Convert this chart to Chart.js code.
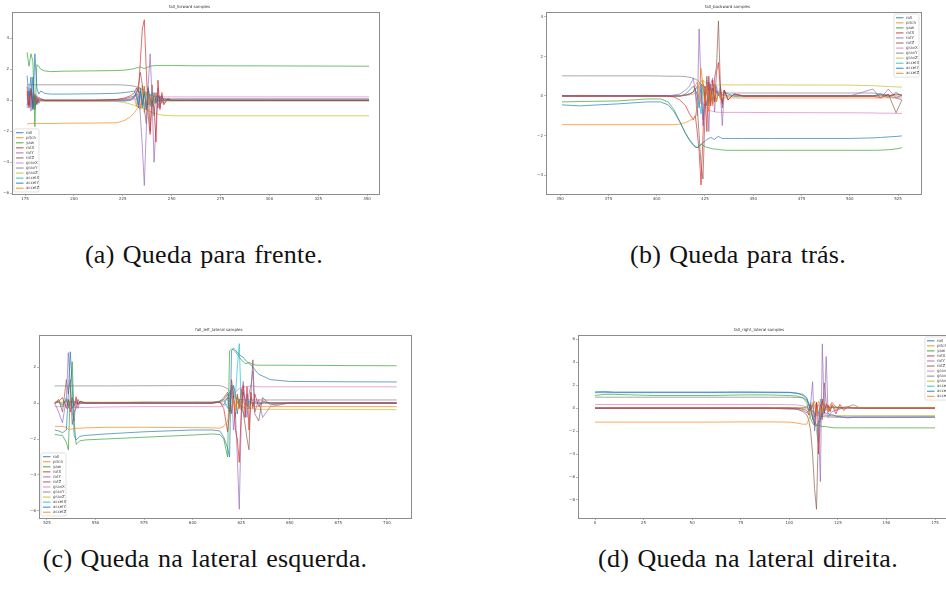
<!DOCTYPE html>
<html>
<head>
<meta charset="utf-8">
<script src="https://cdn.jsdelivr.net/npm/chart.js@4.4.0/dist/chart.umd.min.js"></script>
<style>
  body { margin: 0; background: #fff; width: 946px; height: 593px; overflow: hidden; position: relative; }
  canvas { position: absolute; }
  .cap { position: absolute; width: 400px; text-align: center; font-family: 'Liberation Serif', serif; font-size: 26px; line-height: 24px; letter-spacing: 0.25px; word-spacing: 1.5px; color: #111; }
</style>
</head>
<body>
<canvas id="chartA" width="384" height="205" style="left:0px;top:0px"></canvas>
<canvas id="chartB" width="392" height="205" style="left:534px;top:0px"></canvas>
<canvas id="chartC" width="389" height="206" style="left:27px;top:323px"></canvas>
<canvas id="chartD" width="391" height="206" style="left:566px;top:323px"></canvas>
<div class="cap" style="left:4px;top:243px">(a) Queda para frente.</div>
<div class="cap" style="left:538px;top:243px">(b) Queda para trás.</div>
<div class="cap" style="left:5px;top:547px">(c) Queda na lateral esquerda.</div>
<div class="cap" style="left:548px;top:547px">(d) Queda na lateral direita.</div>
<script>
// sensor channels, same order / colour cycle as the matplotlib plots
const seriesNames = ['roll', 'pitch', 'yaw', 'rotX', 'rotY', 'rotZ', 'gravX', 'gravY', 'gravZ', 'accelX', 'accelY', 'accelZ'];
const seriesColors = ['#1f77b4', '#ff7f0e', '#2ca02c', '#d62728', '#9467bd', '#8c564b', '#e377c2', '#7f7f7f', '#bcbd22', '#17becf', '#1f77b4', '#ff7f0e'];

// ---- fall_forward samples ----
const fwdX = [176, 177, 178, 179, 180, 181, 182, 183, 185, 188, 195, 210, 222, 226, 229, 231, 232, 233, 234, 235, 236, 237, 238, 239, 240, 241, 242, 243, 244, 245, 246, 248, 250, 260, 300, 351];
const fwdRoll = [1.6, 0.3, 1.5, -0.5, 3.0, 0.8, 0.4, 0.6, 0.45, 0.4, 0.4, 0.42, 0.45, 0.5, 0.55, 0.6, 0.2, -0.5, 0.8, -0.3, 0.5, -0.6, 0.7, 0.2, -0.4, 0.5, -0.2, 0.3, -0.1, 0.1, 0.0, 0.05, 0.0, 0.0, 0.0, 0.0];
const fwdPitch = [-1.55, -1.5, -1.5, -1.5, -1.5, -1.5, -1.5, -1.5, -1.5, -1.5, -1.48, -1.47, -1.45, -1.3, -1.05, -0.8, -0.6, -0.45, -0.6, 0.2, 0.9, -0.4, 0.5, -0.3, 0.3, -0.2, 0.4, 0.1, -0.1, 0.05, -0.05, -0.05, -0.05, -0.05, -0.05, -0.05];
const fwdYaw = [3.1, 2.2, 3.0, 2.5, -1.7, 2.3, 2.2, 2.0, 1.9, 1.85, 1.88, 1.9, 1.92, 1.95, 2.0, 2.05, 2.1, 2.1, 2.15, 2.1, 2.05, 2.1, 2.15, 2.2, 2.22, 2.23, 2.25, 2.25, 2.25, 2.25, 2.25, 2.25, 2.25, 2.23, 2.22, 2.2];
const fwdRotX = [0.9, -0.5, 0.7, -0.3, 0.4, -0.2, 0.2, 0.1, 0, 0, 0, 0, 0.05, 0.15, 0.3, 0.5, 0.8, 0.5, 2.6, 4.6, 5.2, 2.0, -1.0, -2.2, 0.0, -0.5, -2.7, 1.3, -0.6, 0.5, -0.3, 0.1, 0, 0, 0, 0];
const fwdRotY = [-0.5, 0.6, -0.7, 0.3, -0.4, 0.2, -0.1, 0.1, 0, 0, 0, 0, 0, 0, 0.05, 0.2, 0.5, 0.3, -1.0, -3.0, -5.5, -2.0, 1.0, 3.0, 0.0, -4.0, -1.5, 0.8, -0.5, 0.3, -0.2, 0.1, 0, 0, 0, 0];
const fwdRotZ = [0.6, -0.3, 0.8, -0.6, 0.2, -0.3, 0.1, 0, 0, 0, 0, 0, 0.05, 0.1, 0.2, 0.3, 0.5, 1.0, 1.8, 1.0, -0.5, -1.5, 0.8, -2.0, 1.0, -1.0, 0.5, -0.5, 0.3, -0.2, 0.1, 0, 0, 0, 0, 0];
const fwdGravX = [0, 0.3, -0.2, 0.5, -0.3, 0.2, 0, 0, 0, 0, 0, 0, 0, 0, 0.02, 0.05, 0.1, 0.15, 0.2, 0.1, -0.2, -0.4, 0.2, -0.1, 0.3, 0.2, 0.25, 0.22, 0.22, 0.22, 0.22, 0.22, 0.22, 0.22, 0.22, 0.22];
const fwdGravY = [1.0, 1.0, 1.0, 1.0, 1.0, 1.0, 1.0, 1.0, 1.0, 1.0, 1.0, 1.0, 1.0, 0.98, 0.95, 0.9, 0.87, 0.83, 0.78, 0.7, 0.6, 0.5, 0.42, 0.35, 0.3, 0.25, 0.2, 0.18, 0.15, 0.13, 0.12, 0.1, 0.1, 0.1, 0.1, 0.1];
const fwdGravZ = [-0.05, -0.05, -0.05, -0.05, -0.05, -0.05, -0.05, -0.05, -0.05, -0.05, -0.05, -0.05, -0.08, -0.15, -0.25, -0.33, -0.38, -0.43, -0.48, -0.53, -0.58, -0.63, -0.68, -0.73, -0.78, -0.83, -0.87, -0.9, -0.93, -0.95, -0.97, -0.98, -1.0, -1.0, -1.0, -1.0];
const fwdAccelX = [0.2, -0.4, 0.5, -0.6, 0.3, -0.2, 0.1, 0, 0, 0, 0, 0, 0, 0.05, 0.1, 0.3, 0.5, 0.8, 0.3, -0.5, 0.7, -0.3, 0.9, -0.4, 0.5, -0.2, 0.3, -0.1, 0.1, 0, 0, 0, 0, 0, 0, 0];
const fwdAccelY = [-0.3, 0.5, -0.4, 1.5, -0.6, 0.3, -0.2, 0, -0.05, -0.05, -0.05, -0.05, -0.05, -0.05, 0, 0.2, 0.4, -0.3, 0.6, -0.5, 0.9, -0.6, 0.4, -0.3, 0.2, -0.1, 0.1, 0, 0, 0, 0, 0, 0, 0, 0, 0];
const fwdAccelZ = [0.4, -0.3, 0.6, -0.2, 0.2, -0.1, 0.05, 0, 0, 0, 0, 0, 0, 0, 0.05, 0.2, -0.4, 0.6, -0.5, 1.0, -0.8, 0.5, -0.3, 0.4, -0.2, 0.1, 0, 0, 0, 0, 0, 0, 0, 0, 0, 0];
const fwdXTicks = [175, 200, 225, 250, 275, 300, 325, 350];
const fwdYTicks = [-6, -4, -2, 0, 2, 4];

// ---- fall_backward samples ----
const bwdX = [351, 360, 380, 395, 402, 406, 409, 412, 415, 417, 419, 420, 421, 422, 423, 424, 425, 426, 427, 428, 429, 430, 431, 432, 433, 434, 435, 437, 440, 445, 460, 500, 512, 516, 520, 524, 527];
const bwdRoll = [-0.45, -0.5, -0.4, -0.3, -0.3, -0.45, -0.8, -1.3, -1.9, -2.2, -2.45, -2.55, -2.6, -2.55, -2.45, -2.35, -2.3, -2.2, -2.15, -2.1, -2.15, -2.2, -2.1, -2.05, -2.1, -2.15, -2.15, -2.15, -2.15, -2.15, -2.15, -2.15, -2.12, -2.1, -2.07, -2.05, -2.02];
const bwdPitch = [-1.45, -1.45, -1.45, -1.45, -1.45, -1.45, -1.45, -1.42, -1.35, -1.25, -1.15, -1.0, -0.6, 0.2, 1.4, 0.5, -0.4, 0.6, -0.8, 0.3, -0.5, 0.4, -0.3, 0.2, -0.2, 0.1, -0.1, -0.1, -0.1, -0.1, -0.1, -0.1, -0.1, -0.1, -0.08, -0.1, -0.1];
const bwdYaw = [-0.3, -0.28, -0.25, -0.15, -0.15, -0.3, -0.7, -1.3, -1.9, -2.25, -2.5, -2.6, -2.62, -2.55, -2.45, -2.5, -2.55, -2.6, -2.62, -2.65, -2.67, -2.68, -2.7, -2.7, -2.72, -2.73, -2.74, -2.75, -2.75, -2.75, -2.75, -2.75, -2.75, -2.74, -2.72, -2.68, -2.62];
const bwdRotX = [0, 0, 0, 0, 0, 0, -0.05, -0.2, -0.5, -0.9, -1.2, -1.0, -1.8, -2.8, -4.5, -2.0, 0.5, -1.8, 1.0, -0.5, 0.8, -0.3, 1.2, 1.7, 0.3, -0.4, 0.3, -0.2, 0.1, 0, 0, 0, 0, 0, 0, 0.1, 0.05];
const bwdRotY = [0, 0, 0, 0, 0, 0, 0.05, 0.1, 0.3, 0.5, 0.9, 0.2, -1.0, 3.4, 0.5, -1.5, -0.5, 0.8, -1.8, 0.6, 0.9, -0.8, 0.5, 0, 0.2, -1.5, 0.3, -0.2, 0.1, 0, 0, 0, 0.35, -0.1, 0.35, -0.1, -0.2];
const bwdRotZ = [0, 0, 0, 0, 0, 0, 0, 0, 0.05, 0.1, 0.2, 0.4, -0.5, -2.0, -3.5, -4.2, -1.0, 1.0, -0.5, 0.6, -0.4, 0.9, 1.5, 3.8, 0.5, -0.6, 0.3, -0.2, 0.1, 0, 0, 0, 0, -0.1, 0.1, -0.85, -0.2];
const bwdGravX = [0, 0, 0, 0, 0, 0, 0, 0, 0.02, 0.05, 0.1, 0.15, 0.1, 0, -0.2, -0.4, -0.5, -0.6, -0.7, -0.75, -0.78, -0.8, -0.82, -0.82, -0.83, -0.83, -0.83, -0.83, -0.83, -0.83, -0.84, -0.85, -0.86, -0.87, -0.87, -0.88, -0.88];
const bwdGravY = [1.02, 1.02, 1.02, 1.02, 1.01, 1.0, 1.0, 1.0, 0.98, 0.95, 0.9, 0.85, 0.8, 0.7, 0.6, 0.5, 0.45, 0.4, 0.35, 0.3, 0.27, 0.25, 0.22, 0.2, 0.18, 0.17, 0.16, 0.15, 0.15, 0.15, 0.15, 0.15, 0.15, 0.1, 0.05, 0, 0];
const bwdGravZ = [0, 0, 0, 0, 0, 0, 0, 0, 0.05, 0.1, 0.2, 0.3, 0.45, 0.6, 0.75, 0.8, 0.7, 0.6, 0.55, 0.55, 0.55, 0.55, 0.55, 0.56, 0.56, 0.56, 0.56, 0.56, 0.56, 0.56, 0.56, 0.55, 0.52, 0.5, 0.48, 0.46, 0.45];
const bwdAccelX = [0, 0, 0, 0, 0, 0, 0, 0, 0.05, 0.1, 0.2, 0.3, 0.5, -0.3, -0.9, 0.6, -0.5, 0.7, -0.4, 0.3, -0.2, 0.6, -0.3, 0.2, -0.1, 0.1, 0, 0, 0, 0, 0, 0, 0, 0.1, -0.1, 0.2, 0];
const bwdAccelY = [0.02, 0, 0.02, 0, 0.02, 0, 0, 0, 0.1, 0.3, 0.5, 0.3, 0.1, -0.6, 0.6, -1.2, 0.2, -0.5, 0.7, -0.3, 0.4, -0.2, 0.3, 0, 0.5, -0.3, 0.2, 0.1, 0, 0, 0, 0, 0, 0.1, 0, -0.1, 0.05];
const bwdAccelZ = [0, 0.03, 0, 0.03, 0, 0, 0, 0, 0.05, 0.1, 0.2, 0.5, 0.7, 0.3, -0.4, 0.8, -0.2, 0.5, -0.3, 0.4, 0.1, -0.2, 0.2, 0.05, 0.1, 0, 0.05, 0, 0, 0, 0, 0, 0, 0.05, 0, 0.1, 0.05];
const bwdXTicks = [350, 375, 400, 425, 450, 475, 500, 525];
const bwdYTicks = [-4, -2, 0, 2, 4];

// ---- fall_left_lateral samples ----
const leftX = [529, 531, 533, 535, 536, 537, 538, 539, 540, 541, 542, 545, 555, 575, 600, 610, 614, 616, 618, 619, 620, 621, 622, 623, 624, 625, 626, 627, 628, 629, 630, 631, 632, 634, 636, 640, 650, 680, 705];
const leftRoll = [-1.5, -1.55, -1.65, -1.5, 0.5, 2.85, 1.0, -1.8, -2.05, -1.95, -1.85, -1.8, -1.72, -1.6, -1.5, -1.5, -1.55, -1.9, -2.5, -3.0, 2.9, 3.05, 2.95, 2.8, 2.7, 2.6, 2.55, 2.4, 2.3, 2.2, 2.1, 2.0, 1.85, 1.6, 1.5, 1.3, 1.2, 1.18, 1.17];
const leftPitch = [-1.3, -1.3, -1.3, -1.35, -1.45, -1.45, -1.45, -1.42, -1.4, -1.4, -1.4, -1.38, -1.35, -1.35, -1.37, -1.38, -1.4, -1.3, -1.0, -0.6, -0.3, 0.2, -0.4, 0.1, -0.3, 0, -0.2, -0.25, -0.2, -0.15, -0.2, -0.2, -0.2, -0.2, -0.2, -0.2, -0.2, -0.2, -0.2];
const leftYaw = [-1.75, -1.78, -1.8, -2.2, -2.6, 0.5, 2.3, -1.0, -2.3, -2.2, -2.1, -2.05, -2.0, -1.9, -1.78, -1.72, -1.75, -2.0, -3.0, 2.9, 3.0, 2.95, 2.85, 2.7, 2.55, 2.4, 2.3, 2.2, 2.2, 2.25, 2.2, 2.15, 2.12, 2.1, 2.1, 2.1, 2.1, 2.08, 2.07];
const leftRotX = [0, 0.1, 0.3, -0.3, 0.2, -0.5, 0.3, -0.2, 0.35, -0.1, 0.1, 0, 0, 0, 0, 0, 0.05, -0.3, -1.6, -0.5, 1.3, 0.5, -1.5, -2.0, -3.3, -0.5, 1.0, -0.8, 0.9, -1.5, 0.6, -0.3, 0.5, -0.2, 0.1, 0, 0, 0, 0];
const leftRotY = [0, -0.5, -1.1, 0.3, 2.8, 1.0, -0.5, -1.0, 0.2, -0.3, 0.1, 0, 0, 0.05, 0.05, 0.05, 0.1, 0.2, 0.5, -0.5, 1.0, -1.5, -0.5, -3.0, -5.9, -1.0, 1.2, 0.2, -0.8, 0.5, 1.0, 1.8, -0.5, 0.2, -0.8, -0.2, 0, 0, 0];
const leftRotZ = [0, 0.2, -0.5, 1.3, 0.5, 1.3, -1.2, -0.5, -0.3, 0.2, 0, 0, 0, 0, 0, 0, 0.1, 0.3, 0.6, 0.2, -0.6, 0.4, -0.8, 0.5, -0.3, 0.8, -0.5, -1.2, -2.0, -2.6, 0.5, 2.4, -0.6, -1.0, 0.3, -0.1, 0, 0, 0];
const leftGravX = [-0.2, -0.2, -0.2, -0.1, 0.1, -0.1, -0.25, -0.25, -0.25, -0.25, -0.25, -0.25, -0.22, -0.2, -0.2, -0.2, -0.2, -0.15, -0.05, 0.1, 0.3, 0.5, 0.6, 0.7, 0.8, 0.85, 0.88, 0.9, 0.92, 0.93, 0.95, 0.95, 0.93, 0.9, 0.9, 0.9, 0.9, 0.9, 0.9];
const leftGravY = [0.95, 0.95, 0.95, 0.95, 0.95, 0.95, 0.95, 0.95, 0.95, 0.95, 0.95, 0.95, 0.95, 0.96, 0.97, 0.97, 0.97, 0.9, 0.8, 0.65, 0.5, 0.4, 0.3, 0.25, 0.2, 0.2, 0.18, 0.17, 0.17, 0.17, 0.17, 0.17, 0.17, 0.17, 0.17, 0.17, 0.17, 0.17, 0.17];
const leftGravZ = [0.05, 0.05, 0.05, 0.05, 0.05, 0.05, 0.05, 0.05, 0.05, 0.05, 0.05, 0.05, 0.05, 0.05, 0.05, 0.05, 0.1, 0.2, 0.4, 0.6, 0.8, 0.6, 0.3, 0, -0.1, -0.2, -0.25, -0.28, -0.3, -0.3, -0.3, -0.32, -0.33, -0.35, -0.35, -0.35, -0.35, -0.36, -0.37];
const leftAccelX = [0, 0.1, -0.2, 0.3, -0.3, 0.2, 0.1, -0.1, 0, 0, 0, 0, 0, 0, 0, 0, 0.05, 0.2, -0.3, 0.6, -0.5, 1.0, 0.3, 2.0, 3.3, -0.2, -0.5, -0.8, 0.5, -0.3, 0.3, -0.2, 0.1, 0, 0, 0, 0, 0, 0];
const leftAccelY = [0, 0.05, -0.1, 0.2, -0.2, 0.1, -0.3, 0.1, 0, 0, 0, 0, 0, 0, 0, 0, 0.05, -0.1, 0.3, -0.5, 0.5, 1.0, 0.5, -0.6, 0.2, -0.4, 0.6, 0.2, -0.2, 0.1, 0, 0, 0, 0, 0, 0, 0, 0, 0];
const leftAccelZ = [0, 0.05, 0, 0.1, -0.1, 0.1, 0, 0, 0, 0, 0, 0, 0, 0, 0, 0, 0.05, 0.1, 0.3, 0.5, 0.8, 0.3, -0.2, 0.4, -0.3, 0.2, 0.1, -0.1, 0.05, 0, 0, 0, 0, 0, 0, 0, 0, 0, 0];
const leftXTicks = [525, 550, 575, 600, 625, 650, 675, 700];
const leftYTicks = [-6, -4, -2, 0, 2];

// ---- fall_right_lateral samples ----
const rightX = [0, 5, 10, 30, 60, 75, 90, 100, 104, 107, 109, 110, 111, 112, 113, 114, 115, 116, 117, 118, 119, 120, 121, 122, 124, 126, 128, 130, 133, 136, 140, 150, 175];
const rightRoll = [1.42, 1.45, 1.4, 1.4, 1.4, 1.42, 1.4, 1.38, 1.3, 1.1, 0.8, 0.3, -0.3, -0.8, -1.2, -1.5, -1.3, -1.0, -0.6, -0.3, -0.5, -0.4, -0.6, -0.55, -0.7, -0.75, -0.8, -0.85, -0.8, -0.8, -0.8, -0.8, -0.78];
const rightPitch = [-1.22, -1.22, -1.22, -1.22, -1.22, -1.2, -1.2, -1.22, -1.3, -1.4, -1.4, -1.0, -0.5, 0.2, 0.6, -0.5, 0.3, 0.1, -0.4, 0.5, 0.2, -0.3, 0.1, 0.3, -0.2, 0.3, 0, 0.1, 0.05, 0.05, 0.05, 0.05, 0.05];
const rightYaw = [1.1, 1.2, 1.2, 1.1, 1.1, 1.15, 1.15, 1.1, 1.05, 0.9, 0.5, -0.3, -0.9, -1.3, -1.5, -1.55, -1.5, -1.55, -1.6, -1.6, -1.62, -1.65, -1.67, -1.7, -1.72, -1.72, -1.72, -1.72, -1.72, -1.72, -1.72, -1.72, -1.72];
const rightRotX = [0, 0, 0, 0, 0, 0, 0, 0, 0, -0.1, -0.2, -0.6, 0.3, -0.8, -1.5, 0.5, -4.0, -1.0, 0.8, -0.4, 0.3, 0.2, -0.3, 0.3, -0.5, 0.3, -0.2, 0.1, 0, 0, 0, 0, 0];
const rightRotY = [0, 0, 0, 0, 0, 0, 0, -0.1, -0.1, -0.2, -0.4, -0.2, 0.4, 2.3, -2.0, 0.5, -1.0, -6.4, 5.6, -0.5, 4.5, -0.8, -0.5, -0.3, -0.2, -0.1, 0.1, 0.1, 0.3, 0.05, 0, 0, 0];
const rightRotZ = [0, 0, 0, 0, 0, 0, 0, 0, -0.1, -0.3, -0.6, -1.0, -2.0, -4.0, -7.0, -8.8, -2.0, 0.3, -1.0, 2.2, 0.5, -0.3, 0.2, 0.5, 0.1, 0, 0, 0, 0, 0, 0, 0, 0];
const rightGravX = [0.32, 0.32, 0.32, 0.32, 0.32, 0.32, 0.32, 0.3, 0.28, 0.2, 0.1, 0, -0.1, -0.2, -0.3, -0.4, -0.45, -0.5, -0.55, -0.6, -0.62, -0.65, -0.68, -0.7, -0.7, -0.72, -0.72, -0.72, -0.72, -0.72, -0.72, -0.72, -0.72];
const rightGravY = [0.95, 0.95, 0.95, 0.95, 0.95, 0.95, 0.95, 0.95, 0.93, 0.9, 0.7, 0.4, 0, -0.3, -0.5, -0.6, -0.65, -0.7, -0.72, -0.75, -0.75, -0.77, -0.78, -0.78, -0.8, -0.8, -0.8, -0.8, -0.8, -0.8, -0.8, -0.8, -0.8];
const rightGravZ = [0.05, 0.05, 0.05, 0.05, 0.05, 0.05, 0.05, 0.05, 0.03, 0, -0.05, -0.1, -0.2, -0.3, -0.4, -0.5, -0.55, -0.6, -0.6, -0.62, -0.63, -0.64, -0.64, -0.65, -0.65, -0.65, -0.65, -0.65, -0.65, -0.65, -0.65, -0.65, -0.65];
const rightAccelX = [0, 0, 0, 0, 0, 0, 0, 0, 0, 0, 0.1, -0.2, 0.5, -1.0, -0.5, -2.0, -3.0, 0.8, -0.5, 0.3, -0.2, 0.2, -0.1, 0.1, 0, 0, 0, 0, 0, 0, 0, 0, 0];
const rightAccelY = [1.35, 1.35, 1.35, 1.35, 1.35, 1.35, 1.35, 1.35, 1.3, 1.2, 0.9, 0.4, -0.2, 0.3, -0.8, 0.5, -0.5, 0.2, 0.6, -0.3, 0.2, 0, 0.05, 0.05, 0.05, 0.05, 0.05, 0.05, 0.05, 0.05, 0.05, 0.05, 0.05];
const rightAccelZ = [0, 0, 0, 0, 0, 0, 0, 0, 0, 0.05, 0.1, 0.3, -0.2, 0.5, 0.2, -0.4, 0.6, 0.3, -0.2, 0.4, 0, 0.3, -0.3, 0.2, 0.1, 0.05, 0.05, 0.05, 0.05, 0.05, 0.05, 0.05, 0.05];
const rightXTicks = [0, 25, 50, 75, 100, 125, 150, 175];
const rightYTicks = [-8, -6, -4, -2, 0, 2, 4, 6];

function fade(hex, a) {
    var n = parseInt(hex.slice(1), 16);
    return 'rgba(' + (n >> 16) + ',' + ((n >> 8) & 255) + ',' + (n & 255) + ',' + a + ')';
}

function minusLabel(v) {
    return v < 0 ? '\u2212' + Math.abs(v) : String(v);
}

// matplotlib draws a box round the axes
const frameBox = {
    id: 'frameBox',
    afterDatasetsDraw(chart) {
        const a = chart.chartArea, ctx = chart.ctx;
        ctx.save();
        ctx.strokeStyle = '#8c8c8c';
        ctx.lineWidth = 1;
        ctx.strokeRect(Math.round(a.left) + 0.5, Math.round(a.top) + 0.5, Math.round(a.right - a.left), Math.round(a.bottom - a.top));
        ctx.restore();
    }
};

// small matplotlib-like legend inside a corner of the axes
const cornerLegend = {
    id: 'cornerLegend',
    afterDraw(chart, args, opts) {
        const a = chart.chartArea, ctx = chart.ctx;
        const rowH = 5.05, w = 25;
        const h = chart.data.datasets.length * rowH + 2.5;
        const x0 = opts.corner.indexOf('right') >= 0 ? a.right - 2 - w : a.left + 2;
        const y0 = opts.corner.indexOf('upper') >= 0 ? a.top + 2 : a.bottom - 2 - h;
        ctx.save();
        ctx.fillStyle = 'rgba(255,255,255,0.85)';
        ctx.strokeStyle = '#d6d6d6';
        ctx.lineWidth = 0.7;
        ctx.beginPath();
        if (ctx.roundRect) ctx.roundRect(x0, y0, w, h, 1.5); else ctx.rect(x0, y0, w, h);
        ctx.fill();
        ctx.stroke();
        ctx.font = '4px "DejaVu Sans"';
        ctx.textBaseline = 'middle';
        chart.data.datasets.forEach((ds, i) => {
            const y = y0 + 1.25 + rowH * (i + 0.5);
            ctx.strokeStyle = ds.borderColor;
            ctx.lineWidth = 1.2;
            ctx.beginPath();
            ctx.moveTo(x0 + 2, y);
            ctx.lineTo(x0 + 9.5, y);
            ctx.stroke();
            ctx.fillStyle = '#444';
            ctx.fillText(ds.label, x0 + 12, y);
        });
        ctx.restore();
    }
};

function axisOptions(min, max, tickValues, fitKey, fitSize) {
    return {
        type: 'linear',
        min: min,
        max: max,
        afterBuildTicks: (scale) => { scale.ticks = tickValues.map(v => ({ value: v })); },
        afterFit: (scale) => { scale[fitKey] = fitSize; },
        border: { display: false },
        grid: { display: true, drawOnChartArea: false, drawTicks: true, tickLength: 2, color: '#888', lineWidth: 0.6 },
        ticks: {
            font: { size: 4, family: 'DejaVu Sans' },
            color: '#444',
            padding: 1,
            maxRotation: 0,
            autoSkip: false,
            callback: minusLabel
        }
    };
}

function initPlot(canvasId, title, xs, series, xRange, yRange, xTicks, yTicks, corner) {
    const datasets = series.map((ys, i) => ({
        label: seriesNames[i],
        data: xs.map((x, j) => ({ x: x, y: ys[j] })),
        borderColor: fade(seriesColors[i], 0.75),
        borderWidth: 0.9,
        pointRadius: 0,
        tension: 0,
        fill: false
    }));
    return new Chart(document.getElementById(canvasId), {
        type: 'line',
        data: { datasets: datasets },
        options: {
            responsive: false,
            animation: false,
            layout: { padding: { left: 0, right: 5, top: 0, bottom: 0 } },
            scales: {
                x: axisOptions(xRange[0], xRange[1], xTicks, 'height', 11),
                y: axisOptions(yRange[0], yRange[1], yTicks, 'width', 12)
            },
            plugins: {
                legend: { display: false },
                tooltip: { enabled: false },
                title: {
                    display: true,
                    text: title,
                    color: '#333',
                    font: { size: 4, family: 'DejaVu Sans', weight: 'normal' },
                    padding: { top: 4.8, bottom: 2.4 }
                },
                cornerLegend: { corner: corner }
            }
        },
        plugins: [frameBox, cornerLegend]
    });
}

initPlot('chartA', 'fall_forward samples', fwdX,
    [fwdRoll, fwdPitch, fwdYaw, fwdRotX, fwdRotY, fwdRotZ, fwdGravX, fwdGravY, fwdGravZ, fwdAccelX, fwdAccelY, fwdAccelZ],
    [168.3, 356.1], [-6.05, 5.7], fwdXTicks, fwdYTicks, 'lower left');

initPlot('chartB', 'fall_backward samples', bwdX,
    [bwdRoll, bwdPitch, bwdYaw, bwdRotX, bwdRotY, bwdRotZ, bwdGravX, bwdGravY, bwdGravZ, bwdAccelX, bwdAccelY, bwdAccelZ],
    [342.7, 536.9], [-4.96, 4.25], bwdXTicks, bwdYTicks, 'upper right');

initPlot('chartC', 'fall_left_lateral samples', leftX,
    [leftRoll, leftPitch, leftYaw, leftRotX, leftRotY, leftRotZ, leftGravX, leftGravY, leftGravZ, leftAccelX, leftAccelY, leftAccelZ],
    [520.9, 712.4], [-6.39, 3.78], leftXTicks, leftYTicks, 'lower left');

initPlot('chartD', 'fall_right_lateral samples', rightX,
    [rightRoll, rightPitch, rightYaw, rightRotX, rightRotY, rightRotZ, rightGravX, rightGravY, rightGravZ, rightAccelX, rightAccelY, rightAccelZ],
    [-8.75, 183.75], [-9.57, 6.37], rightXTicks, rightYTicks, 'upper right');
</script>
</body>
</html>
